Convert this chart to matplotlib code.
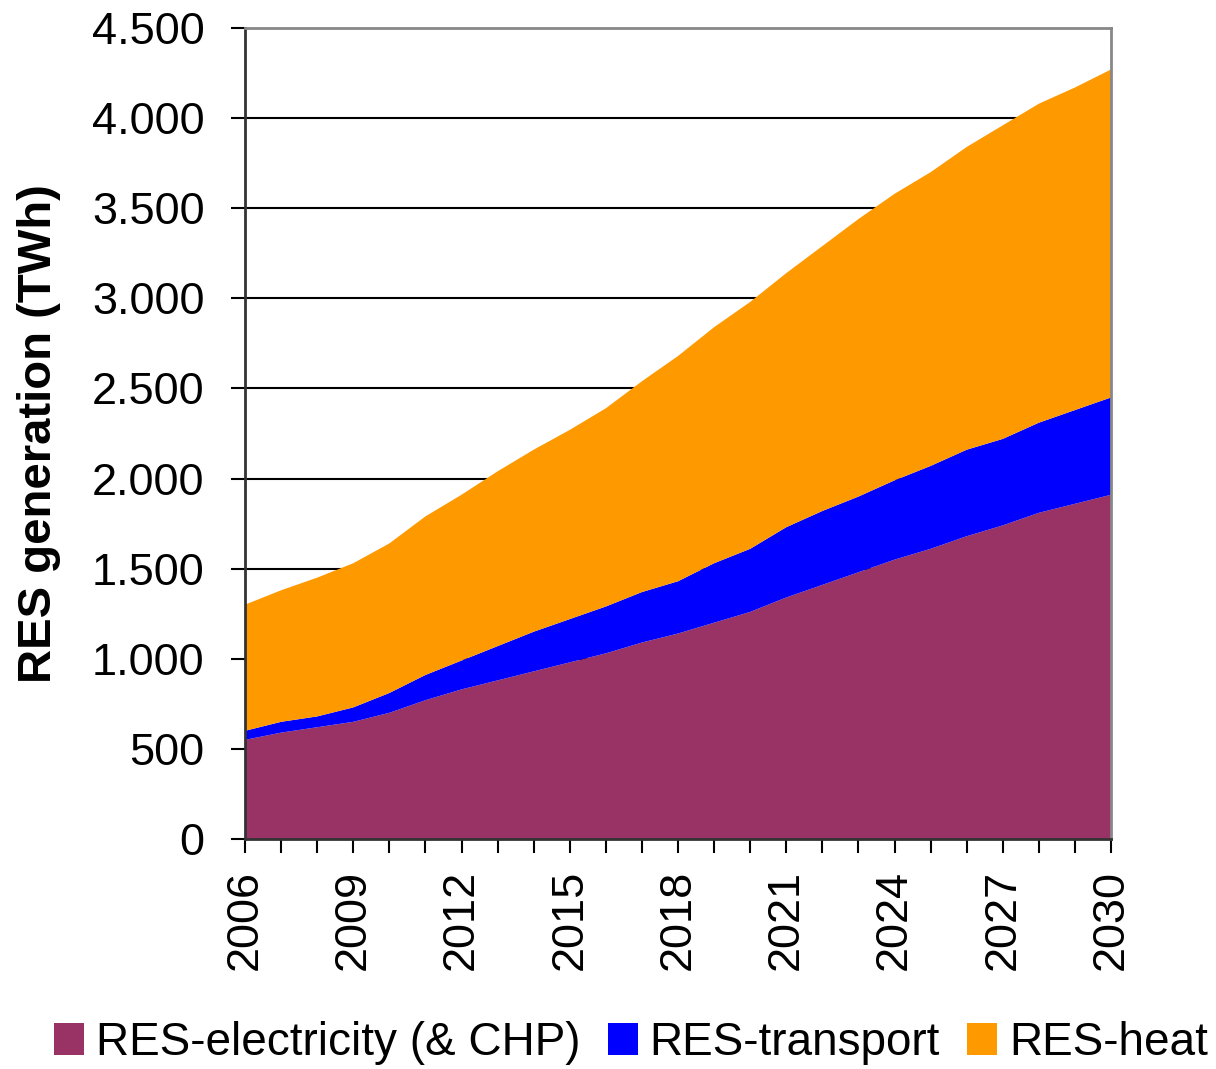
import matplotlib.pyplot as plt
import numpy as np
from matplotlib.ticker import FuncFormatter, MultipleLocator

plt.rcParams['font.family'] = ['Liberation Sans', 'DejaVu Sans']

years = np.arange(2006, 2031)
electricity = [550, 590, 620, 650, 700, 770, 830, 880, 930, 980, 1030, 1090, 1140,
               1200, 1260, 1340, 1410, 1480, 1550, 1610, 1680, 1740, 1810, 1860, 1910]
transport = [50, 60, 60, 80, 110, 140, 160, 190, 220, 240, 260, 280, 290,
             330, 350, 390, 410, 420, 440, 460, 480, 480, 500, 520, 540]
heat = [700, 730, 770, 800, 830, 880, 920, 970, 1010, 1050, 1100, 1170, 1250,
        1310, 1370, 1410, 1470, 1540, 1590, 1630, 1680, 1740, 1770, 1790, 1820]
labels = ["RES-electricity (& CHP)", "RES-transport", "RES-heat"]
colors = ["#993366", "#0000ff", "#ff9900"]

fig = plt.figure(figsize=(12.16, 10.69), dpi=100)
ax = fig.add_axes([0.2015, 0.2152, 0.7122, 0.7586])

ax.stackplot(years, electricity, transport, heat, colors=colors, labels=labels, zorder=2)

ax.set_xlim(2006, 2030)
ax.set_ylim(0, 4500)
ax.yaxis.set_major_locator(MultipleLocator(500))
ax.yaxis.set_major_formatter(FuncFormatter(lambda v, p: f"{int(v):,}".replace(",", ".")))
ax.grid(axis='y', color='black', linewidth=1.5, zorder=1)
ax.set_axisbelow(True)

# labels every 3 years, tick marks every year
ax.set_xticks(years[::3])
ax.set_xticks(years, minor=True)
ax.tick_params(axis='x', which='both', direction='out', length=10, width=1.5,
               labelsize=32.5, labelrotation=90, pad=12)
ax.tick_params(axis='y', direction='out', length=10, width=1.5, labelsize=32.5, pad=19)

ax.set_ylabel("RES generation (TWh)", fontsize=34, fontweight='bold')
ax.yaxis.set_label_coords(-0.212, 0.5)

for s in ['top', 'right']:
    ax.spines[s].set_color('#888888')
    ax.spines[s].set_linewidth(2)
for s in ['left', 'bottom']:
    ax.spines[s].set_color('#333333')
    ax.spines[s].set_linewidth(2)

ax.legend(loc='center', bbox_to_anchor=(0.519, 0.0243), bbox_transform=fig.transFigure,
          ncol=3, frameon=False, fontsize=33, handlelength=0.65, handleheight=0.7,
          handletextpad=0.26, columnspacing=0.6, borderpad=0.1)

fig.savefig("out.png", dpi=100)
